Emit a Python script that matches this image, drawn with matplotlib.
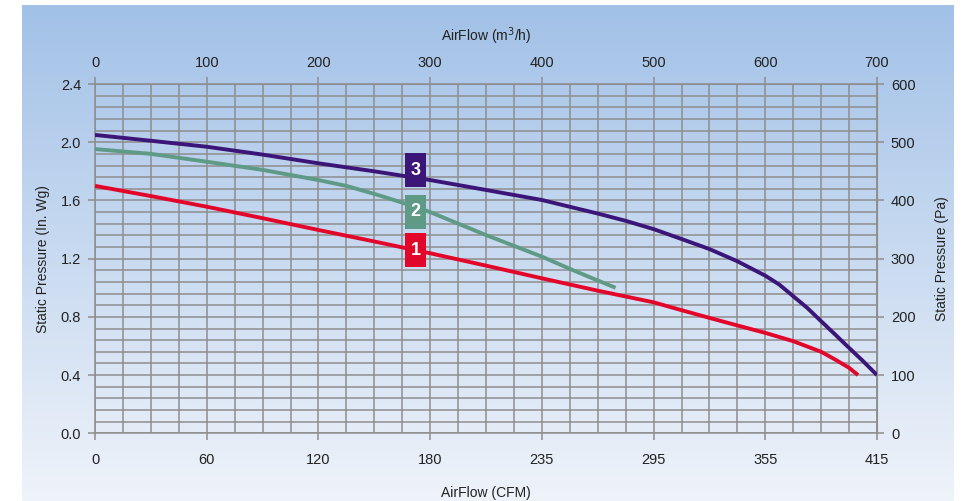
import numpy as np
import matplotlib
matplotlib.use("Agg")
import matplotlib.pyplot as plt
from matplotlib.patches import Rectangle
from matplotlib.ticker import MultipleLocator

plt.rcParams['font.family'] = ['Liberation Sans', 'DejaVu Sans']

# airflow in m3/h, static pressure in In. Wg
fan1_flow = [0, 50, 100, 150, 200, 250, 300, 350, 400, 450, 500, 525, 550, 575, 600, 625,
             650, 662.5, 675, 683]
fan1_sp = [1.70, 1.63, 1.557, 1.478, 1.397, 1.318, 1.237, 1.152, 1.065, 0.98, 0.90, 0.846,
           0.793, 0.741, 0.69, 0.633, 0.56, 0.507, 0.45, 0.40]

fan2_flow = [0, 50, 100, 150, 200, 225, 250, 275, 300, 350, 400, 425, 450, 466]
fan2_sp = [1.953, 1.92, 1.866, 1.81, 1.74, 1.70, 1.645, 1.585, 1.52, 1.362, 1.214, 1.13,
           1.05, 1.0]

fan3_flow = [0, 50, 100, 150, 200, 250, 300, 350, 400, 450, 475, 500, 525, 550, 575, 600,
             612.5, 625, 637.5, 650, 662.5, 675, 687.5, 700]
fan3_sp = [2.05, 2.01, 1.969, 1.915, 1.855, 1.80, 1.74, 1.672, 1.603, 1.51, 1.46, 1.403,
           1.335, 1.266, 1.182, 1.083, 1.022, 0.942, 0.862, 0.77, 0.679, 0.587, 0.496, 0.40]

cfm_labels = ['0', '60', '120', '180', '235', '295', '355', '415']
m3h_ticks = [0, 100, 200, 300, 400, 500, 600, 700]
sp_ticks = [0.0, 0.4, 0.8, 1.2, 1.6, 2.0, 2.4]
pa_ticks = [0, 100, 200, 300, 400, 500, 600]

curve_names = ['1', '2', '3']
curve_colors = ['#e3062b', '#5f9a86', '#3b1577']

fig = plt.figure(figsize=(9.72, 5.01), dpi=100)

# gradient panel behind everything
bg = fig.add_axes([22 / 972, 0, (954 - 22) / 972, 496 / 501], zorder=0)
top = np.array([0.635, 0.757, 0.906])
bot = np.array([0.937, 0.953, 0.980])
t = np.linspace(0, 1, 256)[:, None, None]
grad = top * (1 - t) + bot * t
bg.imshow(np.repeat(grad, 2, axis=1), aspect='auto', extent=[0, 1, 0, 1])
bg.axis('off')

ax = fig.add_axes([95 / 972, 67.7 / 501, 782 / 972, 349.3 / 501], zorder=1)
ax.patch.set_alpha(0)
ax.set_xlim(0, 700)
ax.set_ylim(0, 2.4)

grid_col = '#8e8e8e'
ax.xaxis.set_minor_locator(MultipleLocator(25))
ax.yaxis.set_minor_locator(MultipleLocator(0.08))
ax.grid(which='both', color=grid_col, linewidth=1.1)
ax.set_axisbelow(True)
for s in ax.spines.values():
    s.set_color(grid_col)
    s.set_linewidth(1.1)

ax.set_xticks(m3h_ticks)
ax.set_xticklabels(cfm_labels)
ax.set_yticks(sp_ticks)
ax.set_yticklabels([f'{v:.1f}' for v in sp_ticks])
ax.tick_params(which='major', direction='out', length=5, width=1.1, color=grid_col,
               labelsize=10.5, labelcolor='#222222', pad=9)
ax.tick_params(axis='y', pad=5)
ax.tick_params(which='minor', length=0)

ax.set_xlabel('AirFlow (CFM)', fontsize=10, color='#222222', labelpad=14)
ax.set_ylabel('Static Pressure (In. Wg)', fontsize=10, color='#222222', labelpad=8)

top_ax = ax.secondary_xaxis('top')
top_ax.set_xticks(m3h_ticks)
top_ax.tick_params(direction='out', length=5, width=1.1, color=grid_col,
                   labelsize=10.5, labelcolor='#222222', pad=5)
top_ax.spines['top'].set_color(grid_col)
top_ax.set_xlabel('AirFlow (m$^3$/h)', fontsize=10, color='#222222', labelpad=11)

right_ax = ax.secondary_yaxis('right', functions=(lambda y: y * 250, lambda p: p / 250))
right_ax.set_yticks(pa_ticks)
right_ax.tick_params(direction='out', length=5, width=1.1, color=grid_col,
                     labelsize=10.5, labelcolor='#222222', pad=5)
right_ax.spines['right'].set_color(grid_col)
right_ax.set_ylabel('Static Pressure (Pa)', fontsize=10, color='#222222', labelpad=14)

curves = [(fan1_flow, fan1_sp), (fan2_flow, fan2_sp), (fan3_flow, fan3_sp)]
for (fx, fy), col in zip(curves, curve_colors):
    ax.plot(fx, fy, color=col, linewidth=2.8, solid_capstyle='butt',
            solid_joinstyle='round', zorder=3)

# numbered tags next to the curves
tag_x = 287
tag_y = [1.259, 1.521, 1.806]
tag_w, tag_h = 18.8, 0.234
for name, col, ty in zip(curve_names, curve_colors, tag_y):
    ax.add_patch(Rectangle((tag_x - tag_w / 2, ty - tag_h / 2), tag_w, tag_h,
                           facecolor=col, edgecolor='none', zorder=4))
    ax.text(tag_x, ty, name, color='white', fontsize=13, fontweight='bold',
            ha='center', va='center', zorder=5)

fig.savefig('out.png', dpi=100)
